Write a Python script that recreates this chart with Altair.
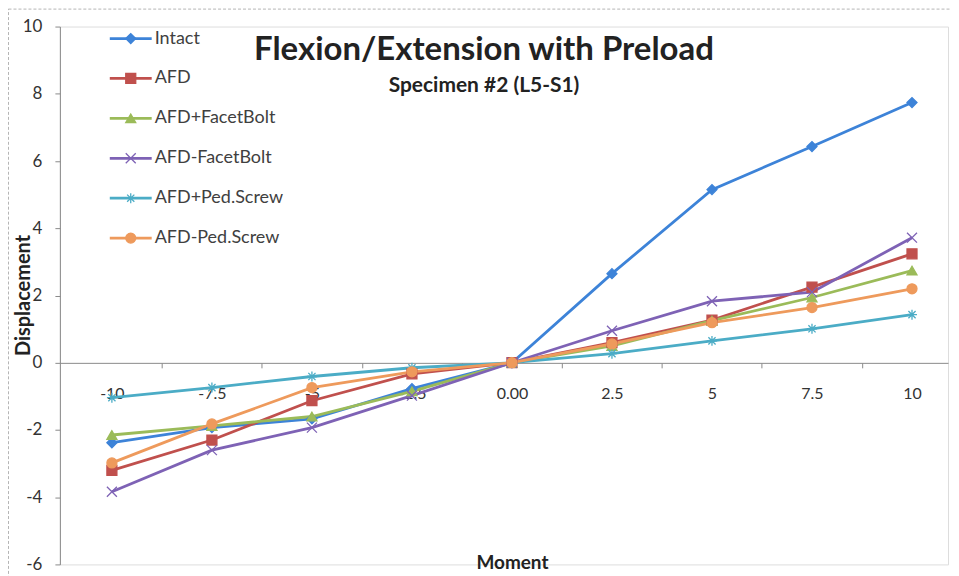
import altair as alt
import pandas as pd

# ---- data ----
moments = [-10, -7.5, -5, -2.5, 0, 2.5, 5, 7.5, 10]
series_names = ["Intact", "AFD", "AFD+FacetBolt", "AFD-FacetBolt", "AFD+Ped.Screw", "AFD-Ped.Screw"]
intact = [-2.38, -1.93, -1.67, -0.77, 0, 2.65, 5.15, 6.43, 7.74]
afd = [-3.2, -2.3, -1.13, -0.33, 0, 0.6, 1.27, 2.25, 3.24]
afd_plus_facetbolt = [-2.15, -1.88, -1.6, -0.85, 0, 0.5, 1.25, 1.94, 2.74]
afd_minus_facetbolt = [-3.84, -2.6, -1.93, -0.98, 0, 0.95, 1.83, 2.1, 3.72]
afd_plus_pedscrew = [-1.04, -0.74, -0.41, -0.15, 0, 0.27, 0.65, 1.01, 1.43]
afd_minus_pedscrew = [-2.98, -1.82, -0.74, -0.27, 0, 0.56, 1.19, 1.64, 2.2]
y_ticks = [-6, -4, -2, 0, 2, 4, 6, 8, 10]

values = [intact, afd, afd_plus_facetbolt, afd_minus_facetbolt, afd_plus_pedscrew, afd_minus_pedscrew]

# ---- styles ----
colors = ["#3D83D8", "#C0504D", "#9BBB59", "#7E62B5", "#4BACC6", "#EE9A5C"]
shapes = [
    "diamond",
    "square",
    "triangle-up",
    "M-1,-1L1,1M-1,1L1,-1",
    "M-1,0L1,0M0,-1L0,1M-0.72,-0.72L0.72,0.72M-0.72,0.72L0.72,-0.72",
    "circle",
]

rows = []
for name, vals in zip(series_names, values):
    for m, v in zip(moments, vals):
        rows.append({"series": name, "moment": m, "value": v})
df = pd.DataFrame(rows)
legend_df = pd.DataFrame({"series": series_names})

W, H = 890, 539
FONT = "Lato"

stroke_scale = alt.Scale(domain=series_names, range=colors)
shape_scale = alt.Scale(domain=series_names, range=shapes)

x_enc = alt.X(
    "moment:Q",
    scale=alt.Scale(domain=[-11.3, 10.9], nice=False, zero=False),
    axis=alt.Axis(
        values=moments,
        title="Moment",
        labelExpr="datum.value == 0 ? '0.00' : toString(datum.value)",
        offset=-202,
        tickOffset=50,
        labelOffset=-50,
        tickSize=5,
        labelPadding=18,
        labelFontSize=16,
        labelFont=FONT,
        labelColor="#333333",
        domainColor="#8a8a8a",
        tickColor="#8a8a8a",
        grid=False,
        titleFont=FONT,
        titleFontSize=19,
        titleFontWeight="bold",
        titleColor="#222222",
        titleX=453,
        titleY=206,
        titleAlign="center",
        titleBaseline="alphabetic",
    ),
)
y_enc = alt.Y(
    "value:Q",
    scale=alt.Scale(domain=[-6, 10], nice=False, zero=False),
    axis=alt.Axis(
        values=y_ticks,
        title="Displacement",
        labelExpr="toString(datum.value)",
        tickSize=5,
        labelPadding=13,
        labelFontSize=17,
        labelFont=FONT,
        labelColor="#333333",
        domainColor="#8a8a8a",
        tickColor="#8a8a8a",
        grid=False,
        titleFont=FONT,
        titleFontSize=20,
        titleFontWeight="bold",
        titleColor="#222222",
        titleAngle=270,
        titleX=-36,
        titleY=269,
        titleAlign="center",
        titleBaseline="middle",
    ),
)

base = alt.Chart(df)
lines = base.mark_line(strokeWidth=2.8).encode(
    x=x_enc,
    y=y_enc,
    stroke=alt.Stroke("series:N", scale=stroke_scale, legend=None),
    detail="series:N",
    order="moment:Q",
)
points = base.mark_point(filled=True, size=100, strokeWidth=1.3, opacity=1).encode(
    x=x_enc,
    y=y_enc,
    fill=alt.Fill("series:N", scale=stroke_scale, legend=None),
    stroke=alt.Stroke("series:N", scale=stroke_scale, legend=None),
    shape=alt.Shape("series:N", scale=shape_scale, legend=None),
)
data_layer = alt.layer(lines, points)

leg_y = alt.Y("series:N", scale=alt.Scale(type="point", domain=series_names, range=[12, 212], padding=0), axis=None)
leg_base = alt.Chart(legend_df)
leg_rule = leg_base.mark_rule(strokeWidth=2.8).encode(
    x=alt.value(50), x2=alt.value(92), y=leg_y,
    stroke=alt.Stroke("series:N", scale=stroke_scale, legend=None),
)
leg_pt = leg_base.mark_point(filled=True, size=100, strokeWidth=1.3, opacity=1).encode(
    x=alt.value(71), y=leg_y,
    fill=alt.Fill("series:N", scale=stroke_scale, legend=None),
    stroke=alt.Stroke("series:N", scale=stroke_scale, legend=None),
    shape=alt.Shape("series:N", scale=shape_scale, legend=None),
)
leg_txt = leg_base.mark_text(align="left", baseline="middle", font=FONT, fontSize=18, color="#404040").encode(
    x=alt.value(95), y=leg_y, text="series:N"
)
legend_layer = alt.layer(leg_rule, leg_pt, leg_txt)

frame = alt.Chart(pd.DataFrame({"a": [0]})).mark_rect(
    fill=None, stroke="#b5b5b5", strokeWidth=1, strokeDash=[3, 2]
).encode(
    x=alt.value(-51.5), x2=alt.value(W + 20), y=alt.value(-17.5), y2=alt.value(H + 30)
)

chart = alt.layer(frame, data_layer, legend_layer).resolve_scale(y="independent").properties(
    width=W,
    height=H,
    autosize=alt.AutoSizeParams(type="none"),
    padding={"left": 52, "top": 18, "right": 3, "bottom": 11},
    title=alt.TitleParams(
        text="Flexion/Extension with Preload",
        subtitle="Specimen #2 (L5-S1)",
        anchor="middle",
        font=FONT,
        fontSize=33,
        fontWeight="bold",
        color="#222222",
        subtitleFont=FONT,
        subtitleFontSize=21,
        subtitleFontWeight="bold",
        subtitleColor="#222222",
        subtitlePadding=8,
        dx=-20,
        dy=92,
    ),
).configure_view(stroke=None).configure(background="white")

chart.save("out.html", embed_options={"renderer": "svg", "actions": False})
